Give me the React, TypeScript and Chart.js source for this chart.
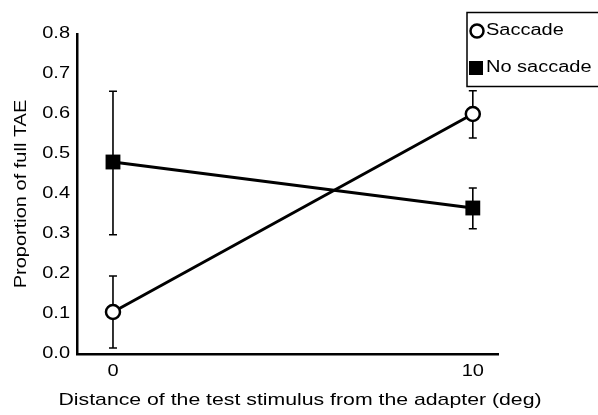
import React, { useEffect, useRef } from "react";
import { Chart, registerables } from "chart.js";

Chart.register(...registerables);

// Test-stimulus distance from the adapter (deg)
const distances = [0, 10];
const xTickValues = [0, 10];

// Proportion of full TAE, mean with error-bar limits
const saccadeMean = [0.105, 0.6];
const saccadeLow = [0.015, 0.54];
const saccadeHigh = [0.195, 0.658];

const noSaccadeMean = [0.48, 0.365];
const noSaccadeLow = [0.298, 0.313];
const noSaccadeHigh = [0.657, 0.415];

const seriesNames = ["Saccade", "No saccade"];
const yTitle = "Proportion of full TAE";
const xTitle = "Distance of the test stimulus from the adapter (deg)";

const FONT = '"Liberation Sans", Arial, Helvetica, sans-serif';
// the typeface in this figure is set slightly wide
const WIDEN = 1.25;

const errorBars = [
  { low: saccadeLow, high: saccadeHigh },
  { low: noSaccadeLow, high: noSaccadeHigh },
];

function wideText(ctx: CanvasRenderingContext2D, text: string, x: number, y: number, align: CanvasTextAlign, size: number) {
  ctx.save();
  ctx.font = `${size}px ${FONT}`;
  ctx.textAlign = align;
  ctx.textBaseline = "middle";
  ctx.translate(x, y);
  ctx.scale(WIDEN, 1);
  ctx.fillText(text, 0, 0);
  ctx.restore();
}

const errorBarPlugin = {
  id: "errorBars",
  beforeDatasetsDraw(chart: any) {
    const { ctx, scales } = chart;
    ctx.save();
    ctx.strokeStyle = "#000";
    ctx.lineWidth = 1.6;
    errorBars.forEach((eb) => {
      distances.forEach((d, i) => {
        const x = scales.x.getPixelForValue(d);
        const yl = scales.y.getPixelForValue(eb.low[i]);
        const yh = scales.y.getPixelForValue(eb.high[i]);
        ctx.beginPath();
        ctx.moveTo(x, yl);
        ctx.lineTo(x, yh);
        ctx.moveTo(x - 4, yl);
        ctx.lineTo(x + 4, yl);
        ctx.moveTo(x - 4, yh);
        ctx.lineTo(x + 4, yh);
        ctx.stroke();
      });
    });
    ctx.restore();
  },
};

const decorPlugin = {
  id: "decor",
  afterDraw(chart: any) {
    const { ctx, chartArea, scales } = chart;
    ctx.save();
    ctx.fillStyle = "#000";

    // tick labels, placed by the chart's own scales
    scales.y.ticks.forEach((t: any) => {
      wideText(ctx, Number(t.value).toFixed(1), chartArea.left - 7, scales.y.getPixelForValue(t.value), "right", 16);
    });
    scales.x.ticks.forEach((t: any) => {
      wideText(ctx, String(t.value), scales.x.getPixelForValue(t.value), chartArea.bottom + 18, "center", 16);
    });

    // axis titles
    wideText(ctx, xTitle, 300, 400, "center", 17);
    ctx.save();
    ctx.translate(22, (chartArea.top + chartArea.bottom) / 2);
    ctx.rotate(-Math.PI / 2);
    wideText(ctx, yTitle, 0, 0, "center", 16);
    ctx.restore();

    // legend box
    ctx.strokeStyle = "#000";
    ctx.lineWidth = 1.5;
    ctx.strokeRect(467, 12.5, 140, 74);
    ctx.beginPath();
    ctx.arc(477, 31, 6.5, 0, Math.PI * 2);
    ctx.fillStyle = "#fff";
    ctx.fill();
    ctx.lineWidth = 2.5;
    ctx.stroke();
    ctx.fillStyle = "#000";
    ctx.fillRect(469, 61, 14, 14);
    wideText(ctx, seriesNames[0], 486, 31, "left", 16);
    wideText(ctx, seriesNames[1], 486, 68, "left", 16);
    ctx.restore();
  },
};

export default function App() {
  const canvasRef = useRef<HTMLCanvasElement | null>(null);

  useEffect(() => {
    document.body.style.margin = "0";
    const canvas = canvasRef.current;
    if (!canvas) return;
    const chart = new Chart(canvas, {
      type: "line",
      data: {
        datasets: [
          {
            label: seriesNames[0],
            data: distances.map((d, i) => ({ x: d, y: saccadeMean[i] })),
            borderColor: "#000",
            borderWidth: 3,
            pointStyle: "circle",
            pointRadius: 7,
            pointBorderWidth: 2.5,
            pointBackgroundColor: "#fff",
            pointBorderColor: "#000",
          },
          {
            label: seriesNames[1],
            data: distances.map((d, i) => ({ x: d, y: noSaccadeMean[i] })),
            borderColor: "#000",
            borderWidth: 3,
            pointStyle: "rect",
            pointRadius: 10.5,
            pointBorderWidth: 0,
            pointBackgroundColor: "#000",
            pointBorderColor: "#000",
          },
        ],
      },
      options: {
        responsive: false,
        animation: false,
        devicePixelRatio: 1,
        layout: { padding: { top: 34, right: 100, left: 0, bottom: 0 } },
        plugins: {
          legend: { display: false },
          tooltip: { enabled: false },
        },
        scales: {
          x: {
            type: "linear",
            min: -1.0,
            max: 10.7,
            grid: { display: false },
            border: { display: true, color: "#000", width: 2.5 },
            afterBuildTicks: (scale: any) => {
              scale.ticks = xTickValues.map((v) => ({ value: v }));
            },
            afterFit: (scale: any) => {
              scale.height = 61;
            },
            ticks: { display: false },
          },
          y: {
            min: 0,
            max: 0.8,
            grid: { display: false },
            border: { display: true, color: "#000", width: 2.5 },
            afterFit: (scale: any) => {
              scale.width = 77;
            },
            ticks: { display: false, stepSize: 0.1 },
          },
        },
      },
      plugins: [errorBarPlugin, decorPlugin],
    });
    return () => chart.destroy();
  }, []);

  return (
    <div style={{ position: "absolute", left: 0, top: 0, width: 598, height: 415, background: "#fff" }}>
      <canvas ref={canvasRef} width={598} height={415} />
    </div>
  );
}
